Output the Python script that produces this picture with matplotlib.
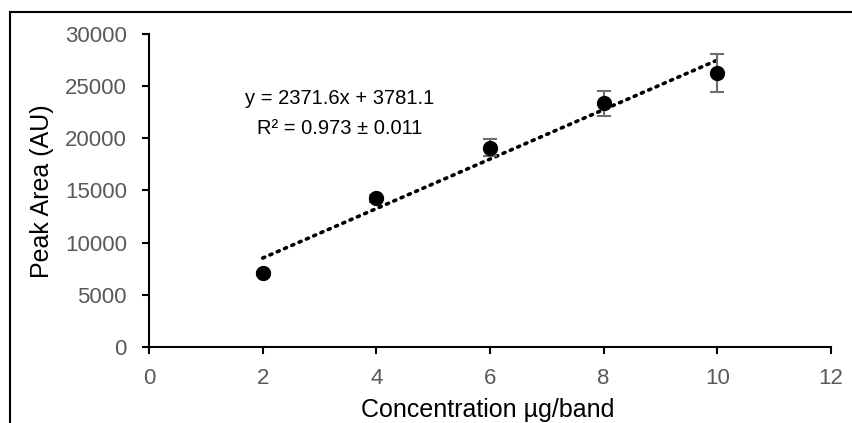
import matplotlib
matplotlib.use("Agg")
import matplotlib.pyplot as plt
import numpy as np
from matplotlib.lines import Line2D

plt.rcParams['font.family'] = ['Liberation Sans', 'DejaVu Sans']

conc = [2, 4, 6, 8, 10]
peak_area = [7050, 14250, 19100, 23350, 26250]
peak_err = [150, 350, 800, 1200, 1850]
slope = 2371.6
intercept = 3781.1
eq_text = "y = 2371.6x + 3781.1"
r2_text = "R² = 0.973 ± 0.011"
x_ticks = [0, 2, 4, 6, 8, 10, 12]
y_ticks = [0, 5000, 10000, 15000, 20000, 25000, 30000]

W, H = 852, 423
fig = plt.figure(figsize=(W/100, H/100), dpi=100)
ax = fig.add_axes([149/W, 1-347/H, (831-149)/W, (347-34)/H])

xfit = np.array([conc[0], conc[-1]], dtype=float)
ax.plot(xfit, slope * xfit + intercept, color='black', linestyle=(0, (0.6, 1.6)),
        linewidth=2.6, dash_capstyle='round', zorder=2)
ax.errorbar(conc, peak_area, yerr=peak_err, fmt='none', ecolor='#6e6e6e',
            elinewidth=1.5, capsize=5, capthick=1.5, zorder=3)
ax.plot(conc, peak_area, 'o', color='black', markersize=10, zorder=4)

ax.set_xlim(0, 12)
ax.set_ylim(0, 30000)
ax.set_xticks(x_ticks)
ax.set_yticks(y_ticks)
for s in ['top', 'right']:
    ax.spines[s].set_visible(False)
for s in ['left', 'bottom']:
    ax.spines[s].set_linewidth(1.5)
    ax.spines[s].set_color('black')
ax.tick_params(axis='both', direction='out', length=5, width=1.5, color='black',
               labelcolor='#595959', labelsize=16)
ax.tick_params(axis='x', pad=10)
ax.tick_params(axis='y', pad=11)

ax.set_xlabel("Concentration µg/band", fontsize=18, color='black')
ax.set_ylabel("Peak Area (AU)", fontsize=18, color='black')
ax.xaxis.set_label_coords((488-149)/(831-149), -(410-347)/(347-34))
ax.yaxis.set_label_coords(-(149-42)/(831-149), (347-191)/(347-34))
ax.xaxis.label.set_va('center')
ax.yaxis.label.set_va('center')

ax.text(3.36, 23770, eq_text, ha='center', va='center', fontsize=14.5)
ax.text(3.36, 20990, r2_text, ha='center', va='center', fontsize=14.5)

fig.add_artist(Line2D([10/W, 1], [1-12/H, 1-12/H], transform=fig.transFigure,
                      color='black', linewidth=1.5))
fig.add_artist(Line2D([10/W, 10/W], [0, 1-12/H], transform=fig.transFigure,
                      color='black', linewidth=1.5))

fig.savefig("out.png", dpi=100)
